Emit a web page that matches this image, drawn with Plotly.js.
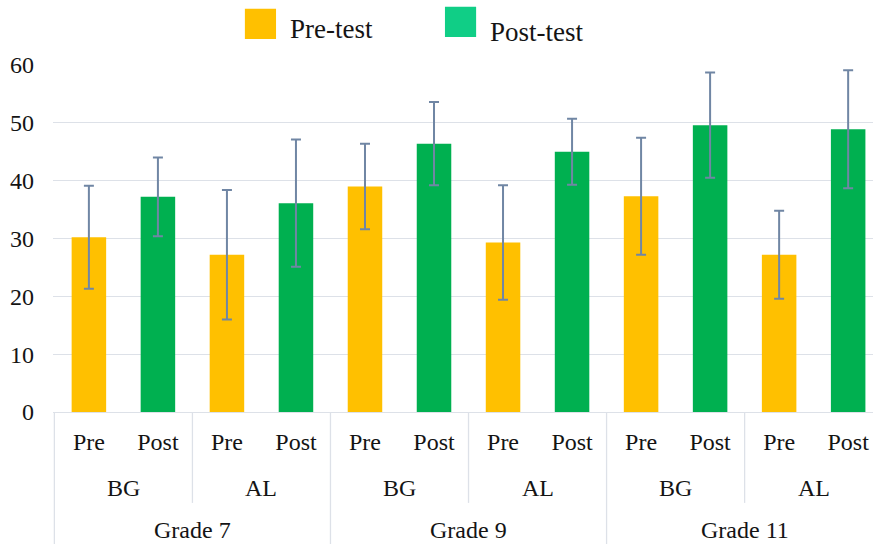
<!DOCTYPE html>
<html>
<head>
<meta charset="utf-8">
<script src="https://cdn.plot.ly/plotly-3.0.1.min.js"></script>
<style>html,body{margin:0;padding:0;background:#fff;}#chart{width:873px;height:544px;}</style>
</head>
<body>
<div id="chart"></div>
<script>
// ---- data ----
var grades = ['Grade 7', 'Grade 9', 'Grade 11'];
var groups = ['BG', 'AL'];
var tests = ['Pre', 'Post'];
// order: G7-BG, G7-AL, G9-BG, G9-AL, G11-BG, G11-AL
var preMean  = [30.2, 27.2, 39.0, 29.3, 37.3, 27.2];
var preSD    = [8.9, 11.2, 7.4, 9.9, 10.1, 7.6];
var postMean = [37.2, 36.1, 46.4, 45.0, 49.6, 48.9];
var postSD   = [6.8, 11.0, 7.2, 5.7, 9.1, 10.2];
var legendNames = ['Pre-test', 'Post-test'];

// ---- build categories ----
var cats = [], tickText = [];
var preX = [], postX = [];
grades.forEach(function (g) {
  groups.forEach(function (gr) {
    tests.forEach(function (t) {
      var id = g + '|' + gr + '|' + t;
      cats.push(id); tickText.push(t);
      if (t === 'Pre') preX.push(id); else postX.push(id);
    });
  });
});

var serif = 'Liberation Serif';
var errColor = '#7086a4';
var gridColor = '#dde1e8';
var txtColor = '#141414';

var traces = [
  {type: 'bar', name: legendNames[0], x: preX, y: preMean, width: 0.5,
   marker: {color: '#FFC000'}, showlegend: false,
   error_y: {type: 'data', array: preSD, visible: true, color: errColor, thickness: 2, width: 5}},
  {type: 'bar', name: legendNames[1], x: postX, y: postMean, width: 0.5,
   marker: {color: '#00B050'}, showlegend: false,
   error_y: {type: 'data', array: postSD, visible: true, color: errColor, thickness: 2, width: 5}}
];

var shapes = [], annotations = [];
var nPerGroup = tests.length, nPerGrade = groups.length * tests.length;
// group separators and grade separators
for (var i = 0; i <= cats.length; i += nPerGroup) {
  var isGrade = (i % nPerGrade === 0);
  shapes.push({type: 'line', xref: 'x', yref: 'paper', x0: i - 0.5, x1: i - 0.5,
    y0: 0, y1: isGrade ? -0.40 : -0.262, line: {color: gridColor, width: 1.3}});
}
// group labels
grades.forEach(function (g, gi) {
  groups.forEach(function (gr, ri) {
    var start = gi * nPerGrade + ri * nPerGroup;
    annotations.push({xref: 'x', yref: 'paper', x: start + (nPerGroup - 1) / 2, y: -0.219,
      text: gr, showarrow: false, yanchor: 'middle', font: {family: serif, size: 24, color: txtColor}});
  });
  annotations.push({xref: 'x', yref: 'paper', x: gi * nPerGrade + (nPerGrade - 1) / 2, y: -0.34,
    text: g, showarrow: false, yanchor: 'middle', font: {family: serif, size: 24, color: txtColor}});
});

// custom legend
var legColors = ['#FFC000', '#10CE86'];
var legX = [0.234, 0.478];
var legY = [0.0, 0.006];
legendNames.forEach(function (n, j) {
  shapes.push({type: 'rect', xref: 'paper', yref: 'paper',
    x0: legX[j], x1: legX[j] + 0.038, y0: 1.075 + legY[j], y1: 1.162 + legY[j],
    fillcolor: legColors[j], line: {width: 0}});
  annotations.push({xref: 'paper', yref: 'paper', x: legX[j] + 0.053, y: 1.105 - legY[j] * 1.5,
    xanchor: 'left', yanchor: 'middle', text: n, showarrow: false,
    font: {family: serif, size: 27, color: txtColor}});
});

var layout = {
  width: 873, height: 544,
  margin: {l: 53, r: 0, t: 65, b: 132},
  paper_bgcolor: '#fff', plot_bgcolor: '#fff',
  showlegend: false,
  font: {family: serif, color: txtColor},
  xaxis: {type: 'category', categoryorder: 'array', categoryarray: cats,
    tickvals: cats, ticktext: tickText, range: [-0.52, 11.36],
    showgrid: false, zeroline: false, showline: true, linecolor: gridColor, linewidth: 1.3,
    ticks: '', ticklabelstandoff: 8,
    tickfont: {family: serif, size: 24, color: txtColor}},
  yaxis: {range: [0, 60], dtick: 10, showgrid: true, gridcolor: gridColor, gridwidth: 1.3,
    zeroline: false, showline: false, ticks: '', ticklabelstandoff: 18,
    tickfont: {family: serif, size: 24, color: txtColor}},
  shapes: shapes, annotations: annotations
};

Plotly.newPlot('chart', traces, layout, {displayModeBar: false, staticPlot: true});
</script>
</body>
</html>
